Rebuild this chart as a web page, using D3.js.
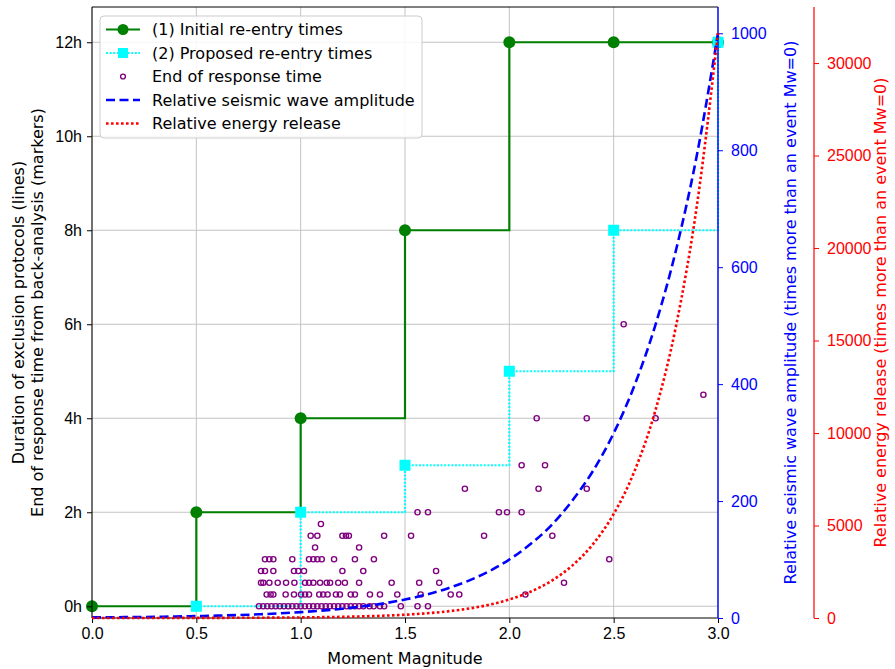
<!DOCTYPE html>
<html lang="en">
<head>
<meta charset="UTF-8">
<title>Re-entry times vs moment magnitude</title>
<script src="https://d3js.org/d3.v7.min.js"></script>
<style>
  body { margin: 0; background: #fff; }
  svg { display: block; font-family: "DejaVu Sans", sans-serif; }
  .tick text { font-size: 16px; }
</style>
</head>
<body>
<svg id="chart" width="895" height="669"></svg>
<script>
// exclusion protocols, hours per magnitude step
const initialMw = [0, 0.5, 1.0, 1.5, 2.0, 2.5, 3.0];
const initialHours = [0, 2, 4, 8, 12, 12, 12];
const proposedMw = [0.5, 1.0, 1.5, 2.0, 2.5, 3.0];
const proposedHours = [0, 2, 3, 5, 8, 12];

// back-analysis: one row of magnitudes per end-of-response time (hours)
const responseHours = [0, 0.25, 0.5, 0.75, 1, 1.25, 1.5, 1.75, 2, 2.5, 3, 4, 4.5, 6];
const responseMwByRow = [
  [0.80, 0.82, 0.84, 0.86, 0.88, 0.90, 0.92, 0.94, 0.96, 0.98, 1.00, 1.02, 1.04, 1.06, 1.08,
   1.10, 1.12, 1.14, 1.16, 1.18, 1.20, 1.22, 1.24, 1.26, 1.28, 1.30, 1.33, 1.35, 1.38, 1.40,
   1.48, 1.56, 1.61],
  [0.837, 0.856, 0.869, 0.928, 0.968, 1.002, 1.021, 1.040, 1.089, 1.108, 1.129, 1.169, 1.188,
   1.240, 1.260, 1.332, 1.380, 1.463, 1.575, 1.719, 1.760, 2.077],
  [0.810, 0.821, 0.850, 0.890, 0.930, 0.970, 1.021, 1.040, 1.061, 1.093, 1.125, 1.141, 1.180,
   1.212, 1.280, 1.436, 1.568, 1.664, 2.262],
  [0.810, 0.829, 0.869, 0.968, 0.989, 1.016, 1.200, 1.300, 1.649],
  [0.829, 0.850, 0.869, 0.960, 1.040, 1.061, 1.080, 1.101, 1.160, 1.260, 1.351, 2.479],
  [1.069, 1.280],
  [1.048, 1.080, 1.200, 1.217, 1.231, 1.400, 1.529, 1.879, 2.206],
  [1.097],
  [1.56, 1.61, 1.950, 1.989, 2.059],
  [1.787, 2.140, 2.371],
  [2.059, 2.171],
  [2.131, 2.371, 2.701],
  [2.93],
  [2.548]
];

// relative amplitude / energy curves (times more than Mw=0)
const curveMw = [0, 0.1, 0.2, 0.3, 0.4, 0.5, 0.6, 0.7, 0.8, 0.9, 1.0, 1.1, 1.2, 1.3, 1.4, 1.5,
  1.6, 1.7, 1.8, 1.9, 2.0, 2.1, 2.2, 2.3, 2.4, 2.5, 2.6, 2.7, 2.8, 2.9, 3.0];
const amplitude = [1, 1.26, 1.58, 2.0, 2.51, 3.16, 3.98, 5.01, 6.31, 7.94, 10, 12.6, 15.8, 20,
  25.1, 31.6, 39.8, 50.1, 63.1, 79.4, 100, 126, 158, 200, 251, 316, 398, 501, 631, 794, 1000];
const energy = [1, 1.41, 2.0, 2.82, 3.98, 5.62, 7.94, 11.2, 15.8, 22.4, 31.6, 44.7, 63.1, 89.1,
  126, 178, 251, 355, 501, 708, 1000, 1413, 1995, 2818, 3981, 5623, 7943, 11220, 15849, 22387, 31623];

const hourTicks = [0, 2, 4, 6, 8, 10, 12];
const mwTicks = [0, 0.5, 1.0, 1.5, 2.0, 2.5, 3.0];
const ampTicks = [0, 200, 400, 600, 800, 1000];
const energyTicks = [0, 5000, 10000, 15000, 20000, 25000, 30000];

const svg = d3.select("#chart");
const plotLeft = 92, plotRight = 718, plotTop = 7, plotBottom = 618;
const redAxisX = 814;
const fs = 16;

const x = d3.scaleLinear().domain([0, 3]).range([plotLeft, plotRight]);
const yH = d3.scaleLinear().domain([-0.25, 12.75]).range([plotBottom, plotTop]);
const yAmp = d3.scaleLinear().domain([0, 1045]).range([plotBottom, plotTop]);
const yEn = d3.scaleLinear().domain([0, 33030]).range([plotBottom, plotTop]);

// grid
const grid = svg.append("g").attr("stroke", "#b0b0b0").attr("stroke-width", 1).attr("opacity", 0.75);
grid.selectAll(".gx").data(mwTicks).join("line")
  .attr("x1", d => x(d)).attr("x2", d => x(d)).attr("y1", plotTop).attr("y2", plotBottom);
grid.selectAll(".gy").data(hourTicks).join("line")
  .attr("x1", plotLeft).attr("x2", plotRight).attr("y1", d => yH(d)).attr("y2", d => yH(d));

const stepLine = d3.line().curve(d3.curveStepAfter);

// (1) initial re-entry times
const initial = initialMw.map((m, i) => [x(m), yH(initialHours[i])]);
svg.append("path").attr("d", stepLine(initial))
  .attr("fill", "none").attr("stroke", "green").attr("stroke-width", 2.2);
svg.append("g").selectAll("circle").data(initial).join("circle")
  .attr("cx", d => d[0]).attr("cy", d => d[1]).attr("r", 6).attr("fill", "green");

// (2) proposed re-entry times
const proposed = proposedMw.map((m, i) => [x(m), yH(proposedHours[i])]);
svg.append("path").attr("d", stepLine(proposed))
  .attr("fill", "none").attr("stroke", "cyan").attr("stroke-width", 2.2)
  .attr("stroke-dasharray", "2,1.6");
svg.append("g").selectAll("rect").data(proposed).join("rect")
  .attr("x", d => d[0] - 5.5).attr("y", d => d[1] - 5.5)
  .attr("width", 11).attr("height", 11).attr("fill", "cyan");

// end of response time markers
const responses = responseHours.flatMap((h, i) => responseMwByRow[i].map(m => [m, h]));
svg.append("g").selectAll("circle").data(responses).join("circle")
  .attr("cx", d => x(d[0])).attr("cy", d => yH(d[1])).attr("r", 2.6)
  .attr("fill", "none").attr("stroke", "purple").attr("stroke-width", 1.4);

// primary axes
const xAxis = svg.append("g").attr("transform", `translate(0,${plotBottom})`)
  .call(d3.axisBottom(x).tickValues(mwTicks).tickFormat(d3.format(".1f")).tickSize(5).tickPadding(5));
const yAxis = svg.append("g").attr("transform", `translate(${plotLeft},0)`)
  .call(d3.axisLeft(yH).tickValues(hourTicks).tickFormat(d => d + "h").tickSize(5).tickPadding(5));
[xAxis, yAxis].forEach(a => {
  a.select(".domain").remove();
  a.selectAll(".tick line").attr("stroke", "#000");
  a.selectAll(".tick text").attr("fill", "#000");
});
svg.append("line").attr("x1", plotLeft).attr("x2", plotRight).attr("y1", plotTop).attr("y2", plotTop).attr("stroke", "#000");
svg.append("line").attr("x1", plotLeft).attr("x2", plotRight).attr("y1", plotBottom).attr("y2", plotBottom).attr("stroke", "#000");
svg.append("line").attr("x1", plotLeft).attr("x2", plotLeft).attr("y1", plotTop).attr("y2", plotBottom).attr("stroke", "#000");

// relative seismic wave amplitude (blue axis)
const smooth = d3.line().curve(d3.curveMonotoneX);
svg.append("path")
  .attr("d", smooth(curveMw.map((m, i) => [x(m), yAmp(amplitude[i])])))
  .attr("fill", "none").attr("stroke", "blue").attr("stroke-width", 2.6)
  .attr("stroke-dasharray", "9,4.5");
const ampAxis = svg.append("g").attr("transform", `translate(${plotRight},0)`)
  .call(d3.axisRight(yAmp).tickValues(ampTicks).tickFormat(d3.format("d")).tickSize(5).tickPadding(8));
ampAxis.select(".domain").remove();
ampAxis.selectAll(".tick line").attr("stroke", "blue");
ampAxis.selectAll(".tick text").attr("fill", "blue");
svg.append("line").attr("x1", plotRight).attr("x2", plotRight).attr("y1", plotTop).attr("y2", plotBottom)
  .attr("stroke", "blue").attr("stroke-width", 1.4);

// relative energy release (red axis)
svg.append("path")
  .attr("d", smooth(curveMw.map((m, i) => [x(m), yEn(energy[i])])))
  .attr("fill", "none").attr("stroke", "red").attr("stroke-width", 2.6)
  .attr("stroke-dasharray", "2.6,2.4");
const enAxis = svg.append("g").attr("transform", `translate(${redAxisX},0)`)
  .call(d3.axisRight(yEn).tickValues(energyTicks).tickFormat(d3.format("d")).tickSize(5).tickPadding(8));
enAxis.select(".domain").remove();
enAxis.selectAll(".tick line").attr("stroke", "red");
enAxis.selectAll(".tick text").attr("fill", "red");
svg.append("line").attr("x1", redAxisX).attr("x2", redAxisX).attr("y1", plotTop).attr("y2", plotBottom)
  .attr("stroke", "red").attr("stroke-width", 1.2);

// axis titles
const midY = (plotTop + plotBottom) / 2;
svg.append("text").attr("x", (plotLeft + plotRight) / 2).attr("y", 664).attr("text-anchor", "middle")
  .attr("font-size", fs).text("Moment Magnitude");
const leftTitle = svg.append("text").attr("transform", `translate(0,${midY}) rotate(-90)`)
  .attr("text-anchor", "middle").attr("font-size", fs);
leftTitle.append("tspan").attr("x", 0).attr("y", 24).text("Duration of exclusion protocols (lines)");
leftTitle.append("tspan").attr("x", 0).attr("y", 43).text("End of response time from back-analysis (markers)");
svg.append("text").attr("transform", `translate(796,${midY}) rotate(-90)`)
  .attr("text-anchor", "middle").attr("font-size", fs).attr("fill", "blue")
  .text("Relative seismic wave amplitude (times more than an event Mw=0)");
svg.append("text").attr("transform", `translate(886,${midY}) rotate(-90)`)
  .attr("text-anchor", "middle").attr("font-size", fs).attr("fill", "red")
  .text("Relative energy release (times more than an event Mw=0)");

// legend
const legendLabels = ["(1) Initial re-entry times", "(2) Proposed re-entry times",
  "End of response time", "Relative seismic wave amplitude", "Relative energy release"];
const legend = svg.append("g").attr("transform", "translate(100,16)");
legend.append("rect").attr("width", 322).attr("height", 122).attr("rx", 4)
  .attr("fill", "#fff").attr("fill-opacity", 0.85).attr("stroke", "#ccc");
const rows = legend.selectAll("g").data(legendLabels).join("g")
  .attr("transform", (d, i) => `translate(0,${13.5 + i * 23.5})`);
rows.append("text").attr("x", 52).attr("y", 5.5).attr("font-size", fs).text(d => d);
const h1 = rows.filter((d, i) => i === 0);
h1.append("line").attr("x1", 6).attr("x2", 40).attr("stroke", "green").attr("stroke-width", 2.2);
h1.append("circle").attr("cx", 23).attr("r", 5.5).attr("fill", "green");
const h2 = rows.filter((d, i) => i === 1);
h2.append("line").attr("x1", 6).attr("x2", 40).attr("stroke", "cyan").attr("stroke-width", 2.2)
  .attr("stroke-dasharray", "2,1.6");
h2.append("rect").attr("x", 18).attr("y", -5).attr("width", 10).attr("height", 10).attr("fill", "cyan");
rows.filter((d, i) => i === 2).append("circle").attr("cx", 23).attr("r", 2.4)
  .attr("fill", "none").attr("stroke", "purple").attr("stroke-width", 1.4);
rows.filter((d, i) => i === 3).append("line").attr("x1", 6).attr("x2", 40)
  .attr("stroke", "blue").attr("stroke-width", 2.6).attr("stroke-dasharray", "9,4.5");
rows.filter((d, i) => i === 4).append("line").attr("x1", 6).attr("x2", 40)
  .attr("stroke", "red").attr("stroke-width", 2.6).attr("stroke-dasharray", "2.6,2.4");
</script>
</body>
</html>
